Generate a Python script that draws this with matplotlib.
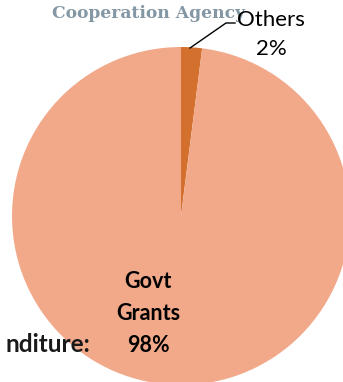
import matplotlib
matplotlib.use('Agg')
import matplotlib.pyplot as plt

# Data
labels = ['Others', 'Govt Grants']
shares = [2, 98]
colors = ['#D4702E', '#F2A98A']

W, H = 343, 382
fig = plt.figure(figsize=(W / 100, H / 100), dpi=100)
ax = fig.add_axes([0, 0, 1, 1])

cx, cy, r = 181, H - 216, 169
ax.pie(shares, colors=colors, startangle=90, counterclock=False,
       center=(cx, cy), radius=r, frame=True,
       wedgeprops=dict(linewidth=0))
ax.set_xlim(0, W)
ax.set_ylim(0, H)
ax.set_aspect('equal')
ax.axis('off')

# cut-off header text
ax.text(149, H - 14, 'Cooperation Agency', family='DejaVu Serif', fontsize=12.3,
        fontweight='bold', color='#5a7486', ha='center', va='center', alpha=0.75, zorder=1)

# Others label + leader line
ax.plot([190, 226, 235], [H - 48, H - 23, H - 23], color='black', lw=1, zorder=5)
ax.text(271, H - 20, 'Others', family='Lato', fontsize=16, ha='center', va='center', zorder=6)
ax.text(271, H - 49, '2%', family='Lato', fontsize=16, ha='center', va='center', zorder=6)

# Govt grants label
ax.text(148, H - 282, 'Govt', family='Lato', fontsize=15.5, fontweight='bold', ha='center', va='center')
ax.text(148, H - 313, 'Grants', family='Lato', fontsize=15.5, fontweight='bold', ha='center', va='center')
ax.text(148, H - 345, '98%', family='Lato', fontsize=15.5, fontweight='bold', ha='center', va='center')

# cut-off side text
ax.text(90, H - 345, 'nditure:', family='Lato', fontsize=17.5, fontweight='bold',
        color='#1a1a1a', ha='right', va='center')

fig.savefig('out.png', dpi=100)
